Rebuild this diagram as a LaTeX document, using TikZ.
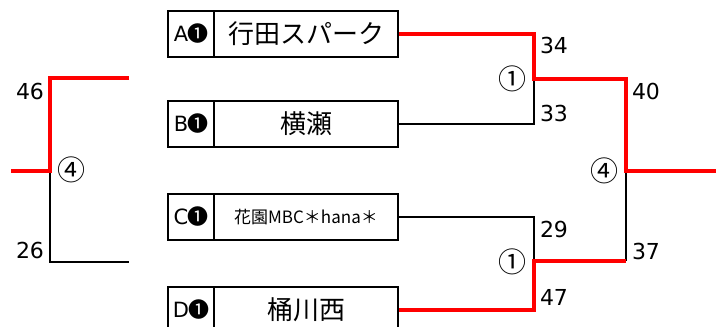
\documentclass[tikz,border=0pt]{standalone}
\usepackage{fontspec}
\setmainfont{DejaVu Sans}
\newfontfamily\jp{Noto Sans CJK JP}
\begin{document}
\begin{tikzpicture}[x=1pt,y=-1pt,
  cell/.style={draw=black,line width=2pt,minimum height=46pt,inner sep=0pt,anchor=north west},
  lab/.style={cell,minimum width=46pt,font=\fontsize{21}{21}\selectfont},
  team/.style={cell,minimum width=184pt,font=\jp\fontsize{26}{26}\selectfont},
  small/.style={cell,minimum width=184pt,font=\jp\fontsize{17}{17}\selectfont},
  blk/.style={draw=black,line width=2pt},
  win/.style={draw=red,line width=3.5pt},
  score/.style={font=\fontsize{22}{22}\selectfont,inner sep=0pt},
  circ/.style={font=\jp\fontsize{28}{28}\selectfont,inner sep=0pt}]
\clip (0,0) rectangle (716,327);
\fill[white] (0,0) rectangle (716,327);
% boxes
\node[lab]  (la) at (167,10)  {A\kern-1pt{\jp ❶}};
\node[team] (a)  at (213,10)  {行田スパーク};
\node[lab]  (lb) at (167,100) {B\kern-1pt{\jp ❶}};
\node[team] (b)  at (213,100) {横瀬};
\node[lab]  (lc) at (167,193) {C\kern-1pt{\jp ❶}};
\node[small](c)  at (213,193) {花園MBC＊hana＊};
\node[lab]  (ld) at (167,286) {D\kern-1pt{\jp ❶}};
\node[team] (d)  at (213,286) {桶川西};
% junctions
\coordinate (j1) at (534,79);
\coordinate (j2) at (534,261);
\coordinate (j3) at (626,171);
\coordinate (j2r) at (626,261);
\coordinate (out) at (716,171);
\coordinate (L) at (50,171);
\coordinate (Lt) at (129,78);
\coordinate (Lb) at (129,262);
\coordinate (Lo) at (11,171);
% black lines
\draw[blk] (b.east) -| (j1);
\draw[blk] (c.east) -| (j2);
\draw[blk] (j2r) -- (j3);
\draw[blk] (L) |- (Lb);
% red lines
\draw[win] (a.east) -| (j1) -| (j3) -- (out);
\draw[win] (d.east) -| (j2) -- (j2r);
\draw[win] (Lt) -| (L) -- (Lo);
% scores
\node[score] (s34) at (554,45) {34};
\node[score] (s33) at (554,113) {33};
\node[score] (s29) at (554,229) {29};
\node[score] (s47) at (554,297) {47};
\node[score] (s40) at (646,91) {40};
\node[score] (s37) at (646,251) {37};
\node[score] (s46) at (30,91) {46};
\node[score] (s26) at (30,250) {26};
\node[circ] (m1) at (512,79) {①};
\node[circ] (m2) at (512,262) {①};
\node[circ] (m3) at (604,171) {④};
\node[circ] (m4) at (71,170) {④};
\end{tikzpicture}
\end{document}
